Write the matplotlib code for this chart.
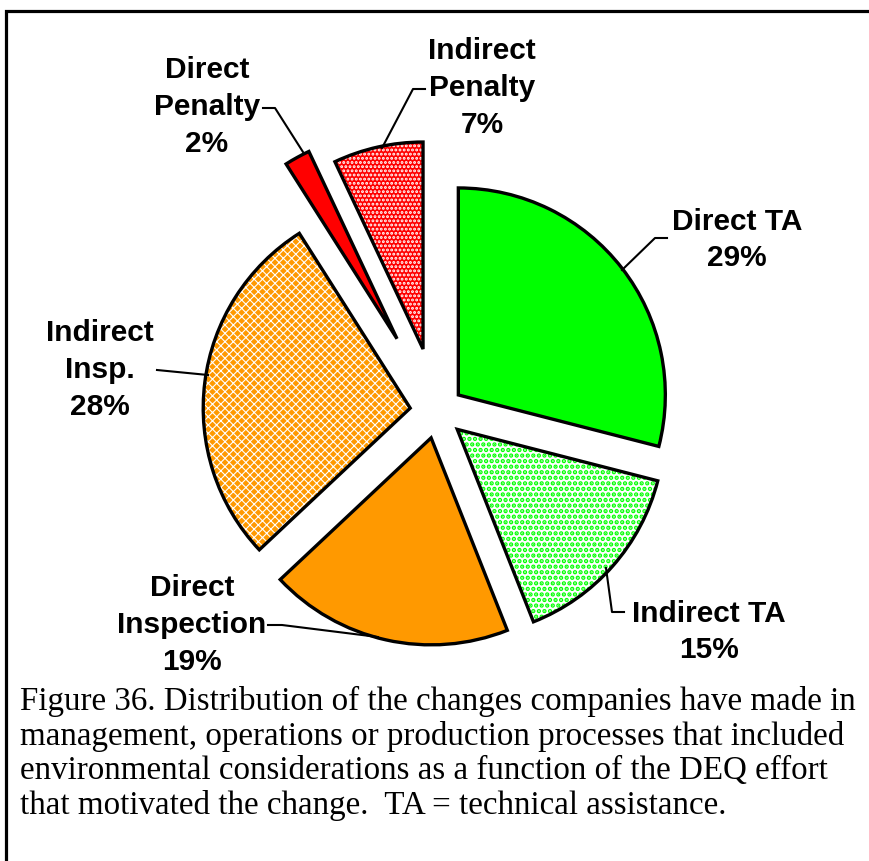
import matplotlib
matplotlib.use("Agg")
import matplotlib.pyplot as plt

# Data
labels = ["Direct TA", "Indirect TA", "Direct\nInspection", "Indirect\nInsp.",
          "Direct\nPenalty", "Indirect\nPenalty"]
shares = [29, 15, 19, 28, 2, 7]
explode = [27, 27, 27, 27, 83, 64]   # offsets in pixels
fills = ["#00FF00", "white", "#FF9900", "#FF9900", "#FF0000", "#FF0000"]
hatches = [None, "...", None, "xxxx", None, "...."]
hatch_colors = ["#00FF00", "#00FF00", "#FF9900", "white", "#FF0000", "white"]
hatch_widths = [1, 2.2, 1, 0.8, 1, 1.4]

W, H = 869, 861
cx, cy, R = 437, H - 411.5, 207


def Y(py):
    return H - py


fig = plt.figure(figsize=(W / 100, H / 100), dpi=100)
ax = fig.add_axes([0, 0, 1, 1])

# filled / hatched wedges
wedges, _ = ax.pie(shares, explode=explode, colors=fills, startangle=90,
                   counterclock=False, center=(cx, cy), radius=R,
                   wedgeprops=dict(linewidth=0))
for w, h, hc, hw in zip(wedges, hatches, hatch_colors, hatch_widths):
    w.set_edgecolor(hc)
    if h:
        w.set_hatch(h)
        if hasattr(w, "set_hatch_linewidth"):
            w.set_hatch_linewidth(hw)

# outlines
ax.pie(shares, explode=explode, colors=["none"] * len(shares), startangle=90,
       counterclock=False, center=(cx, cy), radius=R,
       wedgeprops=dict(linewidth=2.4, edgecolor="black", joinstyle="miter"))

ax.set_xlim(0, W)
ax.set_ylim(0, H)
ax.set_aspect("equal")
ax.axis("off")

# labels with percentages
label_pos = [(737, 240), (709, 632), (192, 625), (100, 370), (207, 107), (482, 88)]
for lab, s, (lx, ly) in zip(labels, shares, label_pos):
    ax.text(lx, Y(ly), f"{lab}\n{s}%", ha="center", va="center",
            family="Liberation Sans", weight="bold", fontsize=21.5,
            linespacing=1.4)

# leader lines
leaders = [
    [(667, 238), (655, 238), (622, 270)],
    [(624, 612), (612, 612), (606, 568)],
    [(268, 625), (282, 625), (378, 637)],
    [(157, 370), (208, 375)],
    [(263, 108), (275, 108), (303, 152)],
    [(425, 89), (413, 89), (382, 148)],
]
for pts in leaders:
    ax.plot([p[0] for p in pts], [Y(p[1]) for p in pts], color="black", lw=1.5)

# frame (left and top)
ax.plot([5.5, 5.5, W], [0, Y(10.5), Y(10.5)], color="black", lw=2.3,
        solid_joinstyle="miter")

caption = ("Figure 36. Distribution of the changes companies have made in\n"
           "management, operations or production processes that included\n"
           "environmental considerations as a function of the DEQ effort\n"
           "that motivated the change.  TA = technical assistance.")
ax.text(20, Y(686), caption, ha="left", va="top", family="Liberation Serif",
        fontsize=23.8, linespacing=1.16)

fig.savefig("out.png", dpi=100)
